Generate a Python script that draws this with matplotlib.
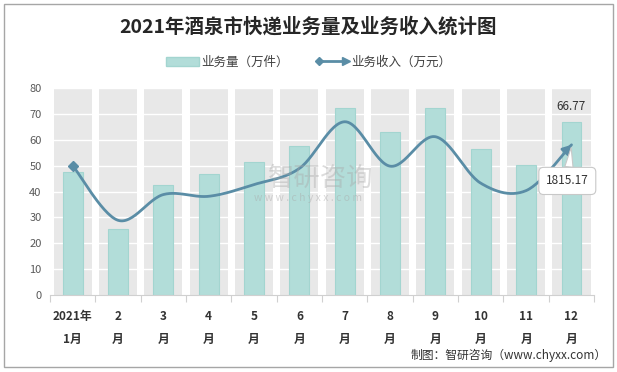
import matplotlib
matplotlib.use("Agg")
import matplotlib.pyplot as plt
import numpy as np
from matplotlib.legend_handler import HandlerBase
from matplotlib.lines import Line2D
from matplotlib.patches import Patch, Rectangle

plt.rcParams["font.family"] = ["Noto Sans CJK SC", "DejaVu Sans"]

# data
months = ["2021年\n1月", "2\n月", "3\n月", "4\n月", "5\n月", "6\n月",
          "7\n月", "8\n月", "9\n月", "10\n月", "11\n月", "12\n月"]
volume = [47.6, 25.6, 42.7, 46.8, 51.6, 57.5, 72.5, 62.9, 72.5, 56.3, 50.1, 66.77]
revenue = [1565, 903, 1214, 1193, 1335, 1530, 2094, 1557, 1913, 1351, 1262, 1815.17]

BAR_C = "#b2ddd9"
BAR_EDGE = "#a3d5d0"
BAND_C = "#e8e8e8"
LINE_C = "#5a8da6"


def smooth(x, y, n=30):
    # Excel-like smoothed line (Catmull-Rom bezier through the points)
    x = np.asarray(x, float)
    y = np.asarray(y, float)
    px = np.concatenate([[x[0]], x, [x[-1]]])
    py = np.concatenate([[y[0]], y, [y[-1]]])
    xs, ys = [], []
    t = np.linspace(0, 1, n)
    for i in range(1, len(px) - 2):
        p0 = np.array([px[i], py[i]])
        p3 = np.array([px[i + 1], py[i + 1]])
        c1 = p0 + (np.array([px[i + 1], py[i + 1]]) - np.array([px[i - 1], py[i - 1]])) / 6
        c2 = p3 - (np.array([px[i + 2], py[i + 2]]) - np.array([px[i], py[i]])) / 6
        b = ((1 - t) ** 3)[:, None] * p0 + (3 * (1 - t) ** 2 * t)[:, None] * c1 \
            + (3 * (1 - t) * t ** 2)[:, None] * c2 + (t ** 3)[:, None] * p3
        xs.append(b[:, 0])
        ys.append(b[:, 1])
    return np.concatenate(xs), np.concatenate(ys)


class ArrowLineHandler(HandlerBase):
    # legend entry: diamond at the start, arrow head at the end
    def create_artists(self, legend, orig_handle, xdescent, ydescent, width, height, fontsize, trans):
        y = height / 2 - ydescent
        x0, x1 = -xdescent, width - xdescent
        line = Line2D([x0 + 2, x1 - 3], [y, y], color=LINE_C, lw=2.0, transform=trans)
        start = Line2D([x0 + 2], [y], marker="D", ms=4.5, color=LINE_C, lw=0, transform=trans)
        end = Line2D([x1 - 2], [y], marker=">", ms=5.5, color=LINE_C, lw=0, transform=trans)
        return [line, start, end]


fig = plt.figure(figsize=(6.17, 3.72), dpi=100)
ax = fig.add_axes([0.081, 0.207, 0.882, 0.556])
x = np.arange(len(months))

ax.bar(x, [80] * len(x), width=0.84, color=BAND_C, zorder=0)
for v in range(10, 81, 10):
    ax.axhline(v, color="white", lw=1.0, zorder=1)
ax.bar(x, volume, width=0.44, color=BAR_C, edgecolor=BAR_EDGE, lw=0.8, zorder=2)
ax.text(x[-1], volume[-1] + 3.5, f"{volume[-1]:.2f}", ha="center", va="bottom",
        fontsize=8.5, color="#333333", zorder=5)

ax.set_xlim(-0.5, len(x) - 0.5)
ax.set_ylim(0, 80)
ax.set_yticks(range(0, 81, 10))
ax.tick_params(axis="y", length=0, labelsize=8, colors="#595959", pad=6)
ax.set_xticks(x)
ax.set_xticklabels(months, fontsize=8.5, fontweight="bold", color="#333333", linespacing=2.0)
ax.tick_params(axis="x", which="major", length=0, pad=11)
ax.set_xticks(np.arange(-0.5, len(x), 1), minor=True)
ax.tick_params(axis="x", which="minor", length=5, color="#d0d0d0", width=0.8)
for s in ["top", "right", "left"]:
    ax.spines[s].set_visible(False)
ax.spines["bottom"].set_color("#d0d0d0")

ax2 = ax.twinx()
ax2.set_ylim(0, 2500)
ax2.set_yticks([])
for s in ax2.spines.values():
    s.set_visible(False)
sx, sy = smooth(x, revenue)
ax2.plot(sx, sy, color=LINE_C, lw=2.0, zorder=4, solid_capstyle="round")
ax2.plot(x[0], revenue[0], marker="D", ms=5, color=LINE_C, zorder=4)
ax2.annotate("", xy=(x[-1], revenue[-1]), xytext=(sx[-4], sy[-4]),
             arrowprops=dict(arrowstyle="-|>,head_length=0.5,head_width=0.3",
                             color=LINE_C, lw=2.0, shrinkA=0, shrinkB=0))
ax2.annotate(f"{revenue[-1]:.2f}", xy=(x[-1], revenue[-1]), xytext=(-3, -26),
             textcoords="offset points", ha="center", va="center", fontsize=8.5,
             color="#333333", zorder=6,
             bbox=dict(boxstyle="round,pad=0.6,rounding_size=0.4", fc="white", ec="#c8c8c8", lw=0.8),
             arrowprops=dict(arrowstyle="wedge,tail_width=0.7,shrink_factor=0.5",
                             fc="white", ec="#c8c8c8", lw=0.8, shrinkA=0, shrinkB=2))

# watermark
fig.text(0.52, 0.52, "智研咨询", fontsize=19, color="#a8a8a8", alpha=0.4, ha="center", va="center")
fig.text(0.50, 0.468, "w w w . c h y x x . c o m", fontsize=7.5, color="#a8a8a8", alpha=0.45,
         ha="center", va="center")

fig.text(0.5, 0.927, "2021年酒泉市快递业务量及业务收入统计图", ha="center", va="center",
         fontsize=14, fontweight="bold", color="#262626")

handles = [Patch(facecolor=BAR_C, edgecolor=BAR_EDGE), Line2D([0], [0], color=LINE_C)]
fig.legend(handles, ["业务量（万件）", "业务收入（万元）"], loc="center",
           bbox_to_anchor=(0.5, 0.833), ncol=2, frameon=False, fontsize=9,
           handlelength=2.6, columnspacing=2.2, handletextpad=0.2, labelcolor="#404040",
           handler_map={Line2D: ArrowLineHandler()})

fig.text(0.983, 0.045, "制图：智研咨询（www.chyxx.com）", ha="right", va="center",
         fontsize=8.5, color="#333333")

fig.patches.append(Rectangle((0.007, 0.013), 0.986, 0.975, transform=fig.transFigure,
                             fill=False, ec="#a6a6a6", lw=1.0))

fig.savefig("out.png", dpi=100)
